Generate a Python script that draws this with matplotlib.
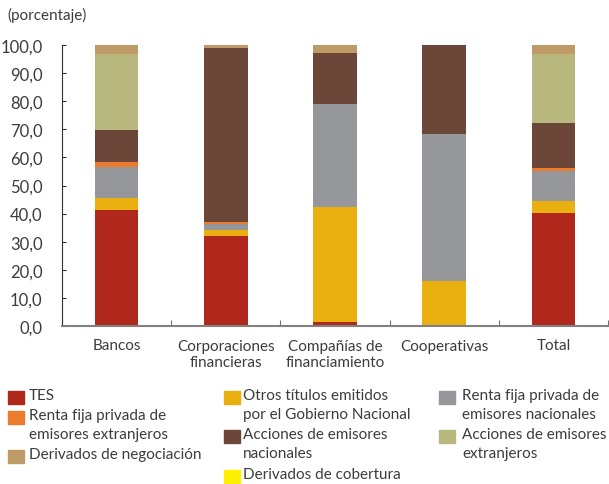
import matplotlib
matplotlib.use("Agg")
import matplotlib.pyplot as plt
from matplotlib.patches import Rectangle
from matplotlib.ticker import FuncFormatter, FixedLocator
import numpy as np

plt.rcParams['font.family'] = ['Lato', 'DejaVu Sans']

categories = ["Bancos", "Corporaciones\nfinancieras", "Compañías de\nfinanciamiento",
              "Cooperativas", "Total"]

# participación por tipo de título (porcentaje), en orden de apilado
tes = [41.4, 32.1, 1.3, 0.0, 40.3]
otros_gob = [4.0, 2.2, 41.2, 16.1, 4.1]
renta_nac = [11.2, 1.9, 36.5, 52.2, 10.6]
renta_ext = [1.7, 0.7, 0.0, 0.0, 1.2]
acc_nac = [11.6, 61.9, 18.2, 31.7, 16.1]
acc_ext = [26.8, 0.0, 0.0, 0.0, 24.4]
der_cob = [0.0, 0.0, 0.0, 0.0, 0.0]
der_neg = [3.3, 1.2, 2.8, 0.0, 3.3]

series = [
    ("TES", tes, "#B0281C"),
    ("Otros títulos emitidos\npor el Gobierno Nacional", otros_gob, "#E9B010"),
    ("Renta fija privada de\nemisores nacionales", renta_nac, "#96979A"),
    ("Renta fija privada de\nemisores extranjeros", renta_ext, "#EA7B2F"),
    ("Acciones de emisores\nnacionales", acc_nac, "#6B4639"),
    ("Acciones de emisores\nextranjeros", acc_ext, "#B8B87E"),
    ("Derivados de cobertura", der_cob, "#FFEF00"),
    ("Derivados de negociación", der_neg, "#BE9A66"),
]

txt = "#3c3c3c"
fig = plt.figure(figsize=(6.09, 4.85), dpi=100)
ax = fig.add_axes([62 / 609, 158 / 485, 546 / 609, 281 / 485])

x = np.arange(len(categories))
bottom = np.zeros(len(categories))
for name, vals, col in series:
    v = np.array(vals)
    ax.bar(x, v, width=0.40, bottom=bottom, color=col, edgecolor="none")
    bottom += v

ax.set_xlim(-0.5, len(categories) - 0.5)
ax.set_ylim(0, 100)
ax.set_yticks(np.arange(0, 101, 10))
ax.yaxis.set_major_formatter(FuncFormatter(lambda v, p: f"{v:.1f}".replace(".", ",")))
ax.xaxis.set_major_locator(FixedLocator(np.arange(-0.5, len(categories), 1.0)))
ax.xaxis.set_major_formatter(FuncFormatter(lambda v, p: ""))
ax.set_xticks(x, minor=True)
ax.set_xticklabels(categories, minor=True)
ax.tick_params(axis="x", which="minor", length=0, pad=9, labelsize=11, labelcolor=txt)
ax.tick_params(axis="x", which="major", direction="in", length=4, color="#707070")
ax.tick_params(axis="y", direction="in", length=3, pad=14, labelsize=12, labelcolor=txt,
               color="#303030")

for s in ["top", "right"]:
    ax.spines[s].set_visible(False)
ax.spines["left"].set_color("#303030")
ax.spines["bottom"].set_color("#808080")
ax.spines["bottom"].set_linewidth(1.5)

fig.text(7 / 609, 1 - 15 / 485, "(porcentaje)", fontsize=11, color=txt, va="center")

# leyenda manual en tres columnas: (x del cuadro, x del texto, y de la fila)
legend_pos = {
    "TES": (8, 29, 398),
    "Renta fija privada de\nemisores extranjeros": (8, 29, 418),
    "Derivados de negociación": (8, 29, 457),
    "Otros títulos emitidos\npor el Gobierno Nacional": (224, 243, 398),
    "Acciones de emisores\nnacionales": (224, 243, 437),
    "Derivados de cobertura": (224, 243, 477),
    "Renta fija privada de\nemisores nacionales": (439, 462, 398),
    "Acciones de emisores\nextranjeros": (439, 462, 437),
}
for name, vals, col in series:
    bx, tx, py = legend_pos[name]
    fig.patches.append(Rectangle((bx / 609, 1 - (py + 6.5) / 485), 15.5 / 609, 13 / 485,
                                 transform=fig.transFigure, color=col))
    fig.text(tx / 609, 1 - (py - 9) / 485, name, fontsize=11, color=txt,
             va="top", linespacing=1.45)

fig.savefig("out.png", dpi=100)
